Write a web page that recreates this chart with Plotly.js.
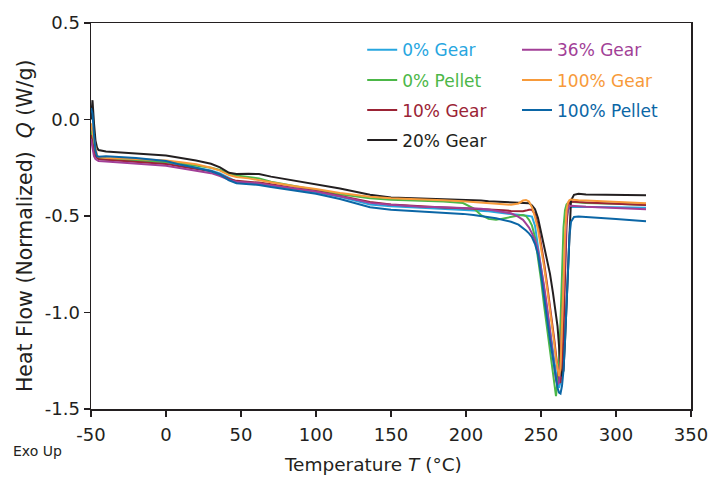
<!DOCTYPE html>
<html>
<head>
<meta charset="utf-8">
<script src="https://cdn.plot.ly/plotly-3.0.1.min.js"></script>
<style>html,body{margin:0;padding:0;background:#fff;}#chart{width:710px;height:481px;}</style>
</head>
<body>
<div id="chart"></div>
<script>
// Temperature grid (°C)
const temps = [-50,-49,-48,-47,-46,-45,-40,-20,0,10,20,30,36,42,47,55,62,70,85,100,116,136,150,170,185,198,205,210,215,220,225,230,235,238,240,242,244,246,248,250,252,254,256,258,259,260,261,262,263,264,265,266,267,268,269,270,272,275,280,300,320];

// Heat flow (W/g) per sample
const gear0 = [-0.05,-0.10,-0.15,-0.18,-0.195,-0.20,-0.203,-0.21,-0.222,-0.236,-0.25,-0.264,-0.28,-0.305,-0.322,-0.328,-0.335,-0.345,-0.362,-0.378,-0.40,-0.44,-0.45,-0.457,-0.462,-0.466,-0.468,-0.47,-0.475,-0.48,-0.486,-0.49,-0.493,-0.495,-0.497,-0.50,-0.503,-0.55,-0.66,-0.76,-0.87,-0.98,-1.09,-1.20,-1.26,-1.32,-1.37,-1.39,-1.36,-1.20,-0.95,-0.68,-0.52,-0.47,-0.455,-0.452,-0.452,-0.452,-0.453,-0.455,-0.457];
const pellet0 = [-0.06,-0.11,-0.16,-0.185,-0.198,-0.203,-0.207,-0.212,-0.22,-0.228,-0.238,-0.25,-0.262,-0.28,-0.29,-0.298,-0.305,-0.322,-0.345,-0.365,-0.388,-0.408,-0.416,-0.42,-0.425,-0.433,-0.46,-0.495,-0.515,-0.52,-0.512,-0.503,-0.498,-0.495,-0.50,-0.52,-0.55,-0.61,-0.71,-0.83,-0.96,-1.08,-1.20,-1.33,-1.40,-1.433,-1.36,-1.25,-1.05,-0.80,-0.56,-0.47,-0.44,-0.432,-0.428,-0.427,-0.428,-0.43,-0.432,-0.437,-0.443];
const gear10 = [-0.08,-0.13,-0.17,-0.19,-0.20,-0.205,-0.208,-0.218,-0.23,-0.244,-0.255,-0.268,-0.285,-0.308,-0.318,-0.322,-0.327,-0.336,-0.355,-0.37,-0.395,-0.428,-0.44,-0.451,-0.456,-0.46,-0.462,-0.463,-0.465,-0.467,-0.47,-0.474,-0.477,-0.475,-0.472,-0.468,-0.468,-0.49,-0.55,-0.64,-0.74,-0.85,-0.96,-1.08,-1.15,-1.22,-1.29,-1.35,-1.365,-1.30,-1.10,-0.80,-0.55,-0.45,-0.43,-0.425,-0.425,-0.428,-0.43,-0.437,-0.443];
const gear20 = [0.0,0.10,-0.02,-0.11,-0.145,-0.158,-0.166,-0.175,-0.187,-0.199,-0.212,-0.229,-0.248,-0.276,-0.282,-0.281,-0.283,-0.296,-0.315,-0.335,-0.357,-0.39,-0.404,-0.409,-0.412,-0.415,-0.418,-0.42,-0.424,-0.426,-0.428,-0.43,-0.432,-0.433,-0.433,-0.434,-0.445,-0.465,-0.51,-0.58,-0.65,-0.73,-0.80,-0.90,-0.95,-1.01,-1.07,-1.17,-1.30,-1.33,-1.30,-1.15,-0.95,-0.72,-0.52,-0.42,-0.39,-0.385,-0.388,-0.39,-0.392];
const gear36 = [-0.10,-0.15,-0.19,-0.205,-0.212,-0.215,-0.217,-0.227,-0.24,-0.253,-0.265,-0.278,-0.293,-0.313,-0.322,-0.325,-0.33,-0.34,-0.357,-0.373,-0.398,-0.432,-0.442,-0.452,-0.455,-0.458,-0.46,-0.462,-0.466,-0.472,-0.478,-0.486,-0.505,-0.52,-0.54,-0.56,-0.59,-0.625,-0.676,-0.76,-0.86,-0.97,-1.09,-1.22,-1.29,-1.35,-1.375,-1.36,-1.25,-1.05,-0.80,-0.60,-0.50,-0.46,-0.45,-0.447,-0.448,-0.45,-0.452,-0.458,-0.465];
const gear100 = [-0.02,-0.06,-0.12,-0.16,-0.185,-0.195,-0.20,-0.205,-0.213,-0.222,-0.232,-0.25,-0.265,-0.288,-0.298,-0.305,-0.313,-0.325,-0.345,-0.36,-0.381,-0.40,-0.408,-0.413,-0.418,-0.424,-0.428,-0.432,-0.436,-0.438,-0.44,-0.442,-0.435,-0.42,-0.417,-0.425,-0.455,-0.505,-0.57,-0.66,-0.76,-0.87,-0.98,-1.10,-1.17,-1.24,-1.30,-1.33,-1.29,-1.10,-0.85,-0.60,-0.47,-0.43,-0.418,-0.415,-0.415,-0.418,-0.42,-0.427,-0.434];
const pellet100 = [0.06,0.03,-0.08,-0.16,-0.19,-0.193,-0.19,-0.20,-0.215,-0.235,-0.25,-0.268,-0.285,-0.315,-0.33,-0.335,-0.339,-0.35,-0.368,-0.385,-0.412,-0.455,-0.467,-0.475,-0.48,-0.489,-0.495,-0.50,-0.505,-0.512,-0.521,-0.53,-0.545,-0.562,-0.575,-0.59,-0.61,-0.645,-0.70,-0.80,-0.93,-1.03,-1.14,-1.25,-1.30,-1.35,-1.39,-1.415,-1.42,-1.38,-1.30,-1.15,-0.98,-0.75,-0.60,-0.53,-0.505,-0.503,-0.505,-0.515,-0.527];

const seriesNames = ["0% Gear","0% Pellet","10% Gear","20% Gear","36% Gear","100% Gear","100% Pellet"];
const seriesColors = ["#27a6df","#4cb748","#9b2335","#231f20","#a23f97","#f79a3a","#0b66a6"];
const seriesValues = [gear0, pellet0, gear10, gear20, gear36, gear100, pellet100];
const legendOf = ["legend","legend","legend","legend","legend2","legend2","legend2"];

// Tick labels
const xTickVals = [-50,0,50,100,150,200,250,300,350];
const xTickText = ["-50","0","50","100","150","200","250","300","350"];
const yTickVals = [-1.5,-1.0,-0.5,0.0,0.5];
const yTickText = ["-1.5","-1.0","-0.5","0.0","0.5"];

const FONT = "Century Gothic, 'URW Gothic', 'DejaVu Sans', sans-serif";

const traces = seriesValues.map((vals, i) => ({
  x: temps, y: vals, type: "scatter", mode: "lines",
  name: '<span style="color:' + seriesColors[i] + '">' + seriesNames[i] + '</span>',
  line: {color: seriesColors[i], width: 2},
  legend: legendOf[i], legendgroup: "g" + i
}));

const axisCommon = {
  showline: true, linecolor: "#231f20", linewidth: 1.5, mirror: true,
  ticks: "outside", ticklen: 6, tickwidth: 1.5, tickcolor: "#231f20",
  showgrid: false, zeroline: false,
  tickfont: {family: FONT, size: 18, color: "#231f20"}
};

const layout = {
  width: 710, height: 481,
  margin: {l: 91, r: 19, t: 23, b: 72},
  paper_bgcolor: "#fff", plot_bgcolor: "#fff",
  font: {family: FONT, color: "#231f20"},
  showlegend: true,
  xaxis: Object.assign({}, axisCommon, {
    range: [-50, 350], tickmode: "array", tickvals: xTickVals, ticktext: xTickText,
    ticklabelstandoff: 3,
    title: {text: "Temperature <i>T</i> (°C)&nbsp;&nbsp;&nbsp;&nbsp;&nbsp;&nbsp;", font: {family: FONT, size: 18.5, color: "#231f20"}, standoff: 14}
  }),
  yaxis: Object.assign({}, axisCommon, {
    range: [-1.5, 0.5], tickmode: "array", tickvals: yTickVals, ticktext: yTickText,
    title: {text: "Heat Flow (Normalized)  <i>Q</i> (W/g)&nbsp;&nbsp;&nbsp;", font: {family: FONT, size: 20.5, color: "#231f20"}, standoff: 6}
  }),
  legend: {x: 0.452, y: 0.976, xanchor: "left", yanchor: "top", bgcolor: "rgba(0,0,0,0)",
    font: {family: FONT, size: 17}, tracegroupgap: 5, traceorder: "grouped"},
  legend2: {x: 0.71, y: 0.976, xanchor: "left", yanchor: "top", bgcolor: "rgba(0,0,0,0)",
    font: {family: FONT, size: 17}, tracegroupgap: 5, traceorder: "grouped"},
  annotations: [{
    text: "Exo Up", xref: "paper", yref: "paper", x: -0.133, y: -0.11,
    xanchor: "left", yanchor: "middle", showarrow: false,
    font: {family: FONT, size: 14, color: "#231f20"}
  }]
};

Plotly.newPlot("chart", traces, layout, {displayModeBar: false, staticPlot: true});
</script>
</body>
</html>
